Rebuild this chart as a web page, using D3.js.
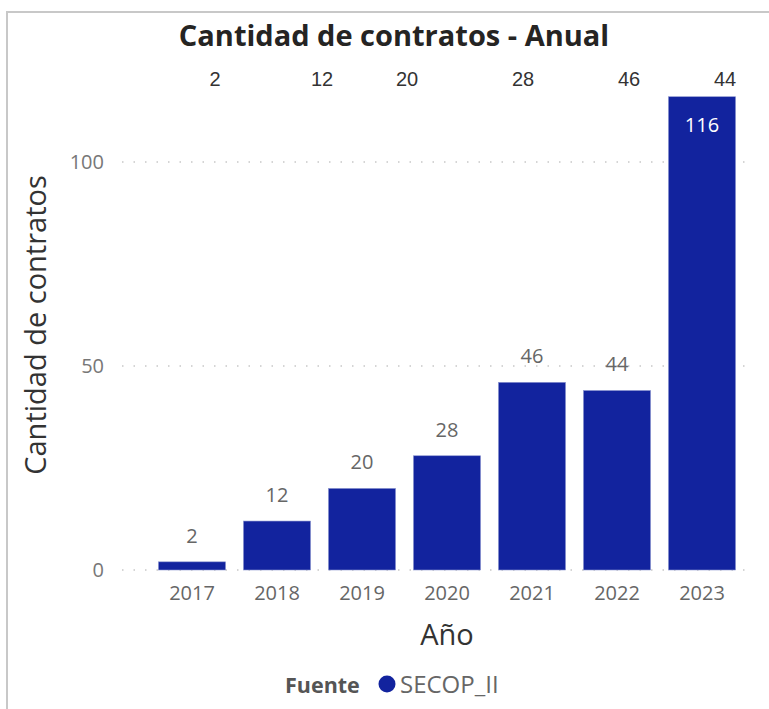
<!DOCTYPE html>
<html>
<head>
<meta charset="utf-8">
<script src="https://cdn.jsdelivr.net/npm/d3@7/dist/d3.min.js"></script>
<style>
  html,body{margin:0;padding:0;background:#fff;}
  svg{display:block;font-family:"Segoe UI","Open Sans","Noto Sans",sans-serif;}
</style>
</head>
<body>
<svg id="chart" width="769" height="709"></svg>
<script>
// datos del gráfico
const years=['2017','2018','2019','2020','2021','2022','2023']
const contratos=[2,12,20,28,46,44,116]
const yTicks=[0,50,100]
// fila superior de etiquetas (tal como aparece en el original)
const topRowValues=[2,12,20,28,46,44]
const topRowX=[215,322,407,523,629,725]

const barColor='#12239e'
const svg=d3.select('#chart')

// marco del visual
svg.append('path')
  .attr('d','M7,720 L7,12 L780,12')
  .attr('fill','none')
  .attr('stroke','#c8c8c8')
  .attr('stroke-width',2)

const x=d3.scaleBand()
  .domain(years)
  .range([149.5,744.5])
  .paddingInner(0.21)
  .paddingOuter(0.105)

const y=d3.scaleLinear()
  .domain([0,100])
  .range([570,162])

// líneas de cuadrícula punteadas
svg.append('g')
  .selectAll('line')
  .data(yTicks)
  .join('line')
  .attr('x1',122)
  .attr('x2',752)
  .attr('y1',d=>y(d))
  .attr('y2',d=>y(d))
  .attr('stroke','#c8c8c8')
  .attr('stroke-width',1.5)
  .attr('stroke-dasharray','1.5,10')

// eje Y
const yAxis=svg.append('g')
  .attr('transform','translate(104,0)')
  .call(d3.axisLeft(y).tickValues(yTicks).tickSize(0).tickPadding(0))
  .attr('font-family',null)
  .attr('font-size',null)
yAxis.select('.domain').remove()
yAxis.selectAll('text')
  .attr('font-size',20)
  .attr('fill','#777')

// eje X
const xAxis=svg.append('g')
  .attr('transform','translate(0,570)')
  .call(d3.axisBottom(x).tickSize(0).tickPadding(16))
  .attr('font-family',null)
  .attr('font-size',null)
xAxis.select('.domain').remove()
xAxis.selectAll('text')
  .attr('font-size',20)
  .attr('fill','#666')

// barras
const data=years.map((d,i)=>({year:d,value:contratos[i]}))
svg.append('g')
  .selectAll('rect')
  .data(data)
  .join('rect')
  .attr('x',d=>x(d.year))
  .attr('y',d=>y(d.value))
  .attr('width',x.bandwidth())
  .attr('height',d=>y(0)-y(d.value))
  .attr('fill',barColor)
  .attr('stroke','#8e97d0')
  .attr('stroke-width',0.6)

// etiquetas de datos
svg.append('g')
  .selectAll('text')
  .data(data)
  .join('text')
  .attr('x',d=>x(d.year)+x.bandwidth()/2)
  .attr('y',d=>d.value>100 ? y(d.value)+35 : y(d.value)-19)
  .attr('text-anchor','middle')
  .attr('font-size',20)
  .attr('fill',d=>d.value>100 ? '#fff' : '#666')
  .text(d=>d.value)

// fila superior
svg.append('g')
  .selectAll('text')
  .data(topRowValues)
  .join('text')
  .attr('x',(d,i)=>topRowX[i])
  .attr('y',86)
  .attr('text-anchor','middle')
  .attr('font-size',20)
  .attr('font-family','Liberation Sans, Arial, sans-serif')
  .attr('fill','#333')
  .text(d=>d)

// título
svg.append('text')
  .attr('x',394)
  .attr('y',46)
  .attr('text-anchor','middle')
  .attr('font-size',29)
  .attr('font-weight','bold')
  .attr('fill','#252423')
  .text('Cantidad de contratos - Anual')

// títulos de ejes
svg.append('text')
  .attr('transform','translate(46,325) rotate(-90)')
  .attr('text-anchor','middle')
  .attr('font-size',29)
  .attr('fill','#333')
  .text('Cantidad de contratos')

svg.append('text')
  .attr('x',447)
  .attr('y',645)
  .attr('text-anchor','middle')
  .attr('font-size',29)
  .attr('fill','#333')
  .text('Año')

// leyenda
const legend=svg.append('g')
legend.append('text')
  .attr('x',285)
  .attr('y',693)
  .attr('font-size',21.5)
  .attr('font-weight','bold')
  .attr('fill','#555')
  .text('Fuente')
legend.append('circle')
  .attr('cx',387)
  .attr('cy',684)
  .attr('r',8.5)
  .attr('fill',barColor)
legend.append('text')
  .attr('x',400)
  .attr('y',693)
  .attr('font-size',24)
  .attr('fill','#666')
  .text('SECOP_II')
</script>
</body>
</html>
